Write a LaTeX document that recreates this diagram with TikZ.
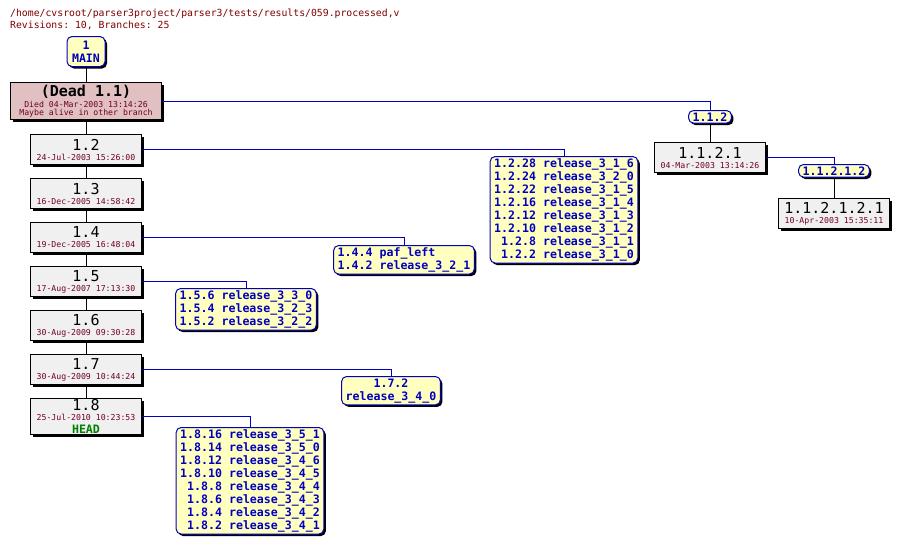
\documentclass[tikz,border=0pt]{standalone}
\usepackage{fontspec}
\setmonofont{DejaVu Sans Mono}
\usetikzlibrary{shadows}

\definecolor{revfill}{HTML}{F0F0F0}
\definecolor{deadfill}{HTML}{E0C0C0}
\definecolor{tagfill}{HTML}{FFFFC0}
\definecolor{tagblue}{HTML}{0000C0}
\definecolor{datered}{HTML}{700020}
\definecolor{titlered}{HTML}{800000}
\definecolor{headgreen}{HTML}{008000}

\newcommand{\numfont}{\ttfamily\fontsize{15}{15}\selectfont}
\newcommand{\datefont}{\ttfamily\fontsize{8.2}{9}\selectfont}
\newcommand{\tagfont}{\ttfamily\bfseries\fontsize{11.6}{13}\selectfont}
\newcommand{\titlefont}{\ttfamily\fontsize{9.8}{13}\selectfont}

\tikzset{
	shade box/.style={drop shadow={shadow xshift=2pt,shadow yshift=-2pt,fill=black,opacity=1}},
	rev/.style={draw=black, line width=1pt, fill=revfill, anchor=north, minimum width=111pt,
		minimum height=30pt, inner sep=1pt, align=center, font=\datefont, shade box},
	dead/.style={rev, fill=deadfill, minimum width=151pt, minimum height=37pt},
	branch/.style={draw=tagblue, line width=1pt, fill=tagfill, rounded corners=5pt, text=tagblue,
		font=\tagfont, align=right, anchor=north, inner xsep=4pt, inner ysep=2pt, shade box},
	trunkline/.style={draw=black, line width=1pt},
	branchline/.style={draw=tagblue, line width=1pt},
}

\begin{document}
\begin{tikzpicture}[x=1pt,y=-1pt]
	\useasboundingbox[fill=white] (0,0) rectangle (899,547);

	% header
	\node[anchor=base west, inner sep=0pt, text=titlered, font=\titlefont] (title) at (10,16)
		{/home/cvsroot/parser3project/parser3/tests/results/059.processed,v};
	\node[anchor=base west, inner sep=0pt, text=titlered, font=\titlefont] (stats) at (10,28)
		{Revisions: 10, Branches: 25};

	% trunk
	\node[branch, align=center, minimum width=38pt, minimum height=30pt] (main) at (86,36) {1\\MAIN};
	\node[dead] (d11) at (86,82)
		{{\numfont\bfseries (Dead 1.1)}\\[2pt]{\color{datered}Died 04-Mar-2003 13:14:26}\\[-1pt]{\color{datered}Maybe alive in other branch}};
	\node[rev] (r12) at (86,134) {{\numfont 1.2}\\[1pt]{\color{datered}24-Jul-2003 15:26:00}};
	\node[rev] (r13) at (86,178) {{\numfont 1.3}\\[1pt]{\color{datered}16-Dec-2005 14:58:42}};
	\node[rev] (r14) at (86,222) {{\numfont 1.4}\\[1pt]{\color{datered}19-Dec-2005 16:48:04}};
	\node[rev] (r15) at (86,266) {{\numfont 1.5}\\[1pt]{\color{datered}17-Aug-2007 17:13:30}};
	\node[rev] (r16) at (86,310) {{\numfont 1.6}\\[1pt]{\color{datered}30-Aug-2009 09:30:28}};
	\node[rev] (r17) at (86,354) {{\numfont 1.7}\\[1pt]{\color{datered}30-Aug-2009 10:44:24}};
	\node[rev] (r18) at (86,398)
		{{\numfont 1.8}\\[1pt]{\color{datered}25-Jul-2010 10:23:53}\\[4pt]{\tagfont\color{headgreen}HEAD}};

	% 1.1.2 branch
	\node[branch] (b112) at (710,110) {1.1.2};
	\node[rev] (r1121) at (710,142) {{\numfont 1.1.2.1}\\[1pt]{\color{datered}04-Mar-2003 13:14:26}};
	\node[branch] (b11212) at (834,164) {1.1.2.1.2};
	\node[rev] (r112121) at (834,198) {{\numfont 1.1.2.1.2.1}\\[1pt]{\color{datered}10-Apr-2003 15:35:11}};

	% tag boxes
	\node[branch] (b12) at (564,156) {1.2.28 release\_3\_1\_6\\1.2.24 release\_3\_2\_0\\1.2.22 release\_3\_1\_5\\
		1.2.16 release\_3\_1\_4\\1.2.12 release\_3\_1\_3\\1.2.10 release\_3\_1\_2\\1.2.8 release\_3\_1\_1\\1.2.2 release\_3\_1\_0};
	\node[branch, align=left] (b14) at (404,245) {1.4.4 paf\_left\\1.4.2 release\_3\_2\_1};
	\node[branch] (b15) at (246,288) {1.5.6 release\_3\_3\_0\\1.5.4 release\_3\_2\_3\\1.5.2 release\_3\_2\_2};
	\node[branch, align=center] (b17) at (391,376) {1.7.2\\release\_3\_4\_0};
	\node[branch] (b18) at (250,427) {1.8.16 release\_3\_5\_1\\1.8.14 release\_3\_5\_0\\1.8.12 release\_3\_4\_6\\
		1.8.10 release\_3\_4\_5\\1.8.8 release\_3\_4\_4\\1.8.6 release\_3\_4\_3\\1.8.4 release\_3\_4\_2\\1.8.2 release\_3\_4\_1};

	% connectors
	\foreach \a/\b in {main/d11,d11/r12,r12/r13,r13/r14,r14/r15,r15/r16,r16/r17,r17/r18,b112/r1121,b11212/r112121}
		\draw[trunkline] (\a.south) -- (\b.north);

	\foreach \a/\b in {d11/b112,r1121/b11212,r12/b12,r14/b14,r15/b15,r17/b17,r18/b18}
		\draw[branchline] (\a.east) -| (\b.north);
\end{tikzpicture}
\end{document}
